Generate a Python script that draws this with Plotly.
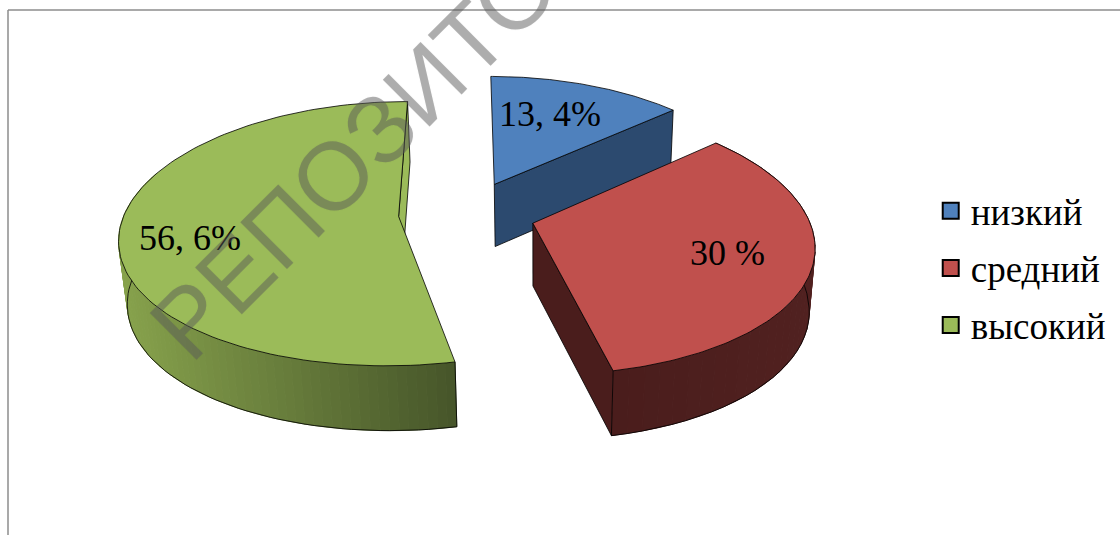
import math
import plotly.graph_objects as go

categories = ["низкий", "средний", "высокий"]
values = [13.4, 30.0, 56.6]
point_labels = ["13, 4%", "30 %", "56, 6%"]
top_colors = ["#4f81bd", "#c0504d", "#9bbb59"]
wall_left = ["#2c4a6f", "#4a1d1c", "#87a24c"]
wall_right = ["#2c4a6f", "#512120", "#46552a"]
label_xy = [(550, 114), (727, 253), (190, 238)]

# projection settings of the tilted pie
CX, CY, A, B, KX, KY = 467, 213, 274, 129, 0.15, 0.13
EXPLODE_X, EXPLODE_Y = 0.25, 0.25
VX, VY, WALL = 537, 3267, 0.0205
WARP = 3.15


def project(x, y):
    sx = 1 / (1 + KX * y)
    sy = 1 / (1 + KY * y)
    return CX + A * x * sx, CY - B * y * sy, sy


def lower(px, py, s):
    f = WALL * s ** 0.6
    return px + (VX - px) * f, py + (VY - py) * f


def warp(th):
    """Foreshortening of slice angles towards the front of the tilted pie."""
    return th + WARP * (1 - math.cos(math.radians(th))) ** 2


def mix(c1, c2, t):
    a = [int(c1[i:i + 2], 16) for i in (1, 3, 5)]
    b = [int(c2[i:i + 2], 16) for i in (1, 3, 5)]
    return "rgb(%d,%d,%d)" % tuple(round(u + (v - u) * t) for u, v in zip(a, b))


fig = go.Figure()
edges = []
acc = 0.0
for v in values:
    edges.append((warp(acc * 3.6), warp((acc + v) * 3.6)))
    acc += v


def offset(i):
    a0, a1 = edges[i]
    mid = math.radians((a0 + a1) / 2)
    return EXPLODE_X * math.sin(mid), EXPLODE_Y * math.cos(mid)


def rim(i, th):
    ox, oy = offset(i)
    r = math.radians(th)
    return project(ox + math.sin(r), oy + math.cos(r))


def tip(i):
    return project(*offset(i))


def poly(xs, ys, fill=None, line="black", width=0.8):
    fig.add_trace(go.Scatter(
        x=xs, y=ys, mode="lines", fill="toself" if fill else "none",
        fillcolor=fill, line=dict(color=line, width=width),
        hoverinfo="skip", showlegend=False))


def wall_strip(i, th0, th1, n):
    """Outer wall of slice i, from angle th0 to th1, shaded by screen x."""
    pts = [rim(i, th0 + (th1 - th0) * j / n) for j in range(n + 1)]
    xl = min(p[0] for p in pts)
    xr = max(p[0] for p in pts)
    for p, q in zip(pts, pts[1:]):
        pb, qb = lower(*p), lower(*q)
        c = mix(wall_left[i], wall_right[i], ((p[0] + q[0]) / 2 - xl) / (xr - xl))
        poly([p[0], q[0], qb[0], pb[0], p[0]], [p[1], q[1], qb[1], pb[1], p[1]], c, c, 1)
    bot = [lower(*p) for p in pts]
    poly([p[0] for p in bot], [p[1] for p in bot])
    e, eb = pts[0], bot[0]
    poly([e[0], eb[0]], [e[1], eb[1]])


def radial_wall(i, th, color):
    t, p = tip(i), rim(i, th)
    tb, pb = lower(*t), lower(*p)
    poly([t[0], p[0], pb[0], tb[0], t[0]], [t[1], p[1], pb[1], tb[1], t[1]], color)


def top_face(i):
    a0, a1 = edges[i]
    n = 120
    pts = [tip(i)] + [rim(i, a0 + (a1 - a0) * j / n) for j in range(n + 1)] + [tip(i)]
    poly([p[0] for p in pts], [p[1] for p in pts], top_colors[i])


# blue (back), then green, then red
radial_wall(0, edges[0][1], wall_left[0])
top_face(0)
radial_wall(2, edges[2][1], top_colors[2])
wall_strip(2, edges[2][0], 290, 70)
top_face(2)
wall_strip(1, edges[1][0], edges[1][1], 40)
radial_wall(1, edges[1][1], wall_left[1])
top_face(1)

# legend entries
for name, col in zip(categories, top_colors):
    fig.add_trace(go.Scatter(
        x=[None], y=[None], mode="markers", name=name, legendgroup=name,
        marker=dict(symbol="square", size=16, color=col, line=dict(color="black", width=2))))

for txt, (x, y) in zip(point_labels, label_xy):
    fig.add_annotation(x=x, y=y, text=txt, showarrow=False,
                       font=dict(family="Liberation Serif", size=36, color="black"))

fig.add_annotation(x=425, y=83, text="РЕПОЗИТОРИЙ", textangle=-45, showarrow=False,
                   font=dict(family="Liberation Sans", size=96, color="rgba(90,90,90,0.40)",
                             shadow="0 0 1px rgba(90,90,90,0.40)"))

# chart frame
fig.add_shape(type="line", x0=8, x1=8, y0=535, y1=10, line=dict(color="#8c8c8c", width=1.5))
fig.add_shape(type="line", x0=8, x1=1120, y0=10, y1=10, line=dict(color="#8c8c8c", width=1.5))

fig.update_layout(
    width=1120, height=535, margin=dict(l=0, r=0, t=0, b=0),
    paper_bgcolor="white", plot_bgcolor="white",
    xaxis=dict(range=[0, 1120], visible=False, fixedrange=True),
    yaxis=dict(range=[535, 0], visible=False, fixedrange=True),
    legend=dict(x=0.831, y=0.663, xanchor="left", yanchor="top", tracegroupgap=6,
                bgcolor="rgba(0,0,0,0)", font=dict(family="Liberation Serif", size=37, color="black")),
    hovermode=False,
)
fig.write_html("out.html", config=dict(displayModeBar=False),
               post_script="document.body.style.margin='0';document.body.style.overflow='hidden';")
